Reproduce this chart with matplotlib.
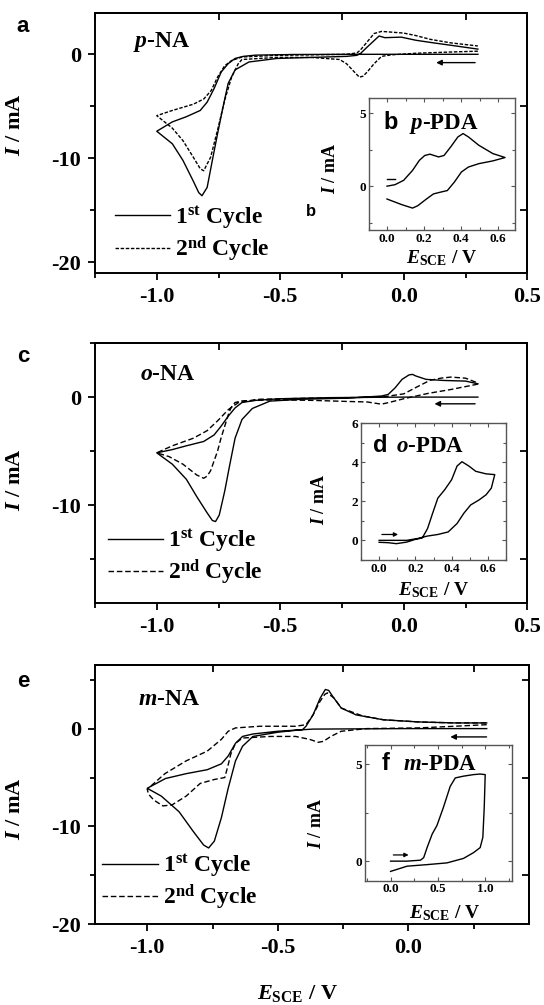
import matplotlib
matplotlib.use('Agg')
import matplotlib.pyplot as plt
from matplotlib.ticker import MultipleLocator
from matplotlib.lines import Line2D

plt.rcParams.update({
    'font.family': 'Liberation Serif',
    'font.weight': 'bold',
    'axes.labelweight': 'bold',
    'axes.unicode_minus': False,
    'mathtext.fontset': 'custom',
    'mathtext.rm': 'Liberation Serif:bold',
    'mathtext.it': 'Liberation Serif:italic:bold',
    'mathtext.bf': 'Liberation Serif:bold',
    'axes.linewidth': 1.4,
})

# ---- p-NA (panel a) ----
pna_c1_E = [0.30, 0.10, -0.20, -0.45, -0.60, -0.65, -0.683, -0.711, -0.739, -0.768, -0.796, -0.824, -0.88, -0.937, -1.0,
            -0.937, -0.894, -0.852, -0.83, -0.817, -0.796, -0.775, -0.754, -0.732, -0.711, -0.683, -0.627, -0.514,
            -0.373, -0.232, -0.19, -0.176, -0.148, -0.10, -0.077, -0.01, 0.049, 0.12, 0.19, 0.30]
pna_c1_I = [0.0, 0.0, 0.0, -0.02, -0.08, -0.2, -0.4, -0.9, -1.7, -3.3, -4.6, -5.4, -6.0, -6.5, -7.4,
            -8.6, -10.2, -12.2, -13.3, -13.6, -12.8, -10.2, -7.65, -5.1, -2.8, -1.5, -0.74, -0.4,
            -0.3, -0.2, -0.1, 0.06, 0.7, 1.76, 1.6, 1.65, 1.35, 1.1, 0.87, 0.5]
pna_c2_E = [0.30, 0.19, 0.05, -0.05, -0.09, -0.12, -0.148, -0.165, -0.18, -0.20, -0.232, -0.26, -0.373, -0.514,
            -0.655, -0.67, -0.697, -0.725, -0.754, -0.782, -0.81, -0.824, -0.852, -0.894, -0.937, -1.0,
            -0.937, -0.852, -0.81, -0.78, -0.754, -0.725, -0.697, -0.655, -0.514, -0.232, -0.19, -0.176,
            -0.148, -0.12, -0.09, -0.06, 0.0, 0.049, 0.107, 0.19, 0.30]
pna_c2_I = [0.3, 0.22, 0.1, -0.05, -0.2, -0.9, -1.7, -2.1, -2.2, -1.7, -0.9, -0.5, -0.3, -0.3,
            -0.5, -0.9, -2.2, -4.4, -7.3, -9.9, -11.2, -11.0, -9.9, -8.3, -7.1, -5.9,
            -5.4, -4.8, -4.3, -3.5, -2.2, -1.1, -0.6, -0.26, -0.1, 0.0, 0.13, 0.4,
            1.2, 2.0, 2.2, 2.15, 2.04, 1.8, 1.44, 1.1, 0.8]

# ---- o-NA (panel c) ----
ona_c1_E = [0.30, 0.0, -0.3, -0.5, -0.60, -0.655, -0.683, -0.71, -0.74, -0.768, -0.81, -0.88, -0.937, -1.0,
            -0.937, -0.88, -0.838, -0.796, -0.775, -0.762, -0.747, -0.725, -0.704, -0.683, -0.655, -0.613,
            -0.542, -0.415, -0.232, -0.09, -0.063, -0.035, -0.007, 0.021, 0.035, 0.049, 0.09, 0.16, 0.25, 0.30]
ona_c1_I = [0.0, 0.0, -0.05, -0.15, -0.3, -0.5, -1.0, -1.75, -2.7, -3.5, -4.1, -4.5, -4.85, -5.15,
            -6.2, -7.6, -9.2, -10.7, -11.4, -11.5, -10.9, -8.7, -6.2, -3.8, -2.07, -1.05,
            -0.37, -0.2, -0.1, 0.1, 0.25, 0.86, 1.64, 2.05, 2.1, 1.95, 1.64, 1.54, 1.48, 1.23]
ona_c2_E = [0.30, 0.19, 0.10, 0.05, 0.0, -0.06, -0.09, -0.12, -0.148, -0.232, -0.373, -0.514, -0.6, -0.655,
            -0.683, -0.70, -0.71, -0.725, -0.74, -0.754, -0.768, -0.782, -0.796, -0.81, -0.838, -0.894,
            -0.95, -1.0, -0.937, -0.852, -0.796, -0.754, -0.71, -0.669, -0.585, -0.373, -0.09, 0.0, 0.05,
            0.106, 0.15, 0.19, 0.25, 0.30]
ona_c2_I = [1.2, 0.7, 0.35, 0.1, -0.15, -0.5, -0.65, -0.55, -0.45, -0.4, -0.3, -0.25, -0.3, -0.35,
            -0.5, -1.0, -1.6, -2.7, -3.8, -5.0, -5.9, -6.8, -7.3, -7.5, -7.2, -6.2,
            -5.5, -5.15, -4.5, -3.8, -3.1, -2.2, -1.15, -0.5, -0.2, -0.1, 0.0, 0.3, 0.9,
            1.55, 1.75, 1.85, 1.75, 1.3]

# ---- m-NA (panel e) ----
mna_c1_E = [0.30, 0.0, -0.365, -0.5, -0.595, -0.635, -0.662, -0.69, -0.716, -0.77, -0.85, -0.93, -1.0,
            -0.946, -0.878, -0.824, -0.784, -0.765, -0.743, -0.716, -0.69, -0.662, -0.635, -0.595, -0.5,
            -0.405, -0.392, -0.365, -0.338, -0.318, -0.305, -0.29, -0.257, -0.2, -0.095, 0.04, 0.176, 0.30]
mna_c1_I = [0.0, 0.0, -0.05, -0.27, -0.55, -0.8, -1.5, -2.8, -3.6, -4.2, -4.6, -5.1, -6.1,
            -6.9, -8.5, -10.5, -11.9, -12.2, -11.5, -9.1, -6.1, -3.3, -1.8, -0.8, -0.37,
            -0.1, 0.24, 1.4, 3.1, 4.0, 3.9, 3.3, 2.1, 1.4, 0.9, 0.68, 0.58, 0.58]
mna_c2_E = [0.30, 0.176, 0.04, -0.16, -0.257, -0.297, -0.325, -0.345, -0.378, -0.432, -0.527, -0.635,
            -0.662, -0.68, -0.69, -0.703, -0.743, -0.797, -0.851, -0.905, -0.94, -0.975, -0.995, -1.0,
            -0.932, -0.851, -0.77, -0.716, -0.69, -0.662, -0.568, -0.432, -0.392, -0.365, -0.338,
            -0.32, -0.31, -0.284, -0.257, -0.176, -0.095, 0.04, 0.176, 0.30]
mna_c2_I = [0.4, 0.24, 0.07, 0.0, -0.27, -0.8, -1.3, -1.4, -1.1, -0.8, -0.8, -0.96,
            -1.5, -2.6, -3.7, -5.0, -5.2, -5.6, -6.9, -7.8, -7.9, -7.3, -6.7, -6.2,
            -4.6, -3.3, -2.3, -1.1, -0.27, 0.07, 0.24, 0.24, 0.4, 1.4, 2.8,
            3.5, 3.65, 3.1, 2.1, 1.3, 0.9, 0.68, 0.58, 0.58]

# ---- insets ----
ppda_E = [0.0, 0.043, 0.09, 0.138, 0.175, 0.204, 0.232, 0.279, 0.308, 0.345, 0.383, 0.411, 0.44, 0.496, 0.572, 0.638,
          0.572, 0.496, 0.44, 0.402, 0.364, 0.326, 0.289, 0.251, 0.213, 0.166, 0.138, 0.081, 0.0]
ppda_I = [0.0, 0.1, 0.4, 1.08, 1.77, 2.1, 2.19, 2.0, 2.1, 2.7, 3.37, 3.6, 3.37, 2.8, 2.23, 1.96,
          1.73, 1.54, 1.31, 0.97, 0.28, -0.3, -0.41, -0.53, -0.88, -1.34, -1.5, -1.27, -0.88]
opda_E = [0.0, 0.05, 0.095, 0.152, 0.2, 0.238, 0.267, 0.295, 0.324, 0.362, 0.4, 0.43, 0.457, 0.495, 0.533, 0.59, 0.638,
          0.619, 0.59, 0.552, 0.505, 0.467, 0.43, 0.381, 0.324, 0.267, 0.21, 0.152, 0.0]
opda_I = [-0.1, -0.12, -0.17, -0.09, 0.05, 0.12, 0.6, 1.38, 2.16, 2.59, 3.1, 3.8, 4.02, 3.8, 3.53, 3.4, 3.36,
          2.67, 2.33, 2.07, 1.81, 1.38, 0.86, 0.43, 0.3, 0.22, 0.09, 0.0, 0.0]
mpda_E = [0.0, 0.175, 0.386, 0.596, 0.77, 0.877, 0.947, 0.975, 0.99, 1.0,
          0.947, 0.877, 0.77, 0.684, 0.63, 0.56, 0.49, 0.44, 0.386, 0.35, 0.316, 0.175, 0.0]
mpda_I = [-0.53, -0.26, -0.18, -0.09, 0.14, 0.44, 0.7, 1.23, 2.8, 4.47,
          4.5, 4.47, 4.39, 4.3, 3.86, 2.8, 1.84, 1.4, 0.7, 0.18, 0.05, 0.0, 0.0]

cycle_labels = [r'1$^{\rm st}$ Cycle', r'2$^{\rm nd}$ Cycle']

W, H = 544, 1005
fig = plt.figure(figsize=(W / 100, H / 100), dpi=100)


def px_rect(l, t, r, b):
    return [l / W, 1 - b / H, (r - l) / W, (b - t) / H]


def main_panel(rect, xlim, ylim, c1, c2, dash, name, name_xy, leg_xy, arrow, ylab_y, letter, letter_y):
    ax = fig.add_axes(rect)
    ax.plot(c1[0], c1[1], color='black', lw=1.0)
    ax.plot(c2[0], c2[1], color='black', lw=1.0, ls=dash)
    ax.set_xlim(*xlim)
    ax.set_ylim(*ylim)
    ax.xaxis.set_major_locator(MultipleLocator(0.5))
    ax.xaxis.set_minor_locator(MultipleLocator(0.25))
    ax.yaxis.set_major_locator(MultipleLocator(10))
    ax.yaxis.set_minor_locator(MultipleLocator(5))
    ax.xaxis.set_major_formatter(lambda v, p: f'{v:.1f}')
    ax.tick_params(which='major', direction='out', length=5, width=1.3, labelsize=16, pad=5)
    ax.tick_params(which='minor', direction='out', length=3.5, width=1.3)
    # mirrored ticks pointing inward on top and right
    top = ax.secondary_xaxis('top')
    top.set_ticks(list(ax.get_xticks(minor=True)))
    top.tick_params(direction='in', length=5, width=1.3, labeltop=False)
    right = ax.secondary_yaxis('right')
    right.set_ticks(list(ax.get_yticks(minor=True)))
    right.tick_params(direction='in', length=5, width=1.3, labelright=False)
    ax.set_ylabel(r'$I$ / mA', fontsize=16)
    ax.yaxis.set_label_coords(-0.162, ylab_y)
    ax.text(name_xy[0], name_xy[1], name, transform=ax.transAxes, fontsize=17, va='baseline')
    handles = [Line2D([], [], color='black', lw=1.0), Line2D([], [], color='black', lw=1.0, ls=dash)]
    ax.legend(handles, cycle_labels, loc='lower left', bbox_to_anchor=leg_xy, frameon=False,
              fontsize=17, handlelength=2.35, handletextpad=0.2, borderpad=0, borderaxespad=0,
              labelspacing=0.15)
    ax.annotate('', xy=(arrow[1], arrow[2]), xytext=(arrow[0], arrow[2]),
                arrowprops=dict(arrowstyle='-|>', color='black', lw=1.0, mutation_scale=8))
    fig.text(23 / W, 1 - letter_y / H, letter, family='Liberation Sans', weight='bold', fontsize=16,
             ha='center', va='baseline')
    return ax


def inset(rect, data, xlim, ylim, xmaj, xmin, ymaj, ymin, letter, name, txt, arr, ylab_x, ylab_y, xlab_xy, xfmt):
    ax = fig.add_axes(rect)
    ax.plot(data[0], data[1], color='black', lw=1.0)
    ax.set_xlim(*xlim)
    ax.set_ylim(*ylim)
    ax.xaxis.set_major_locator(MultipleLocator(xmaj))
    ax.xaxis.set_minor_locator(MultipleLocator(xmin))
    ax.yaxis.set_major_locator(MultipleLocator(ymaj))
    ax.yaxis.set_minor_locator(MultipleLocator(ymin))
    ax.xaxis.set_major_formatter(lambda v, p: xfmt.format(v))
    ax.tick_params(which='both', direction='in', top=True, right=True, width=0.8, labelsize=9.5, pad=2,
                   color='#555555')
    ax.tick_params(which='major', length=3)
    ax.tick_params(which='minor', length=2)
    for s in ax.spines.values():
        s.set_edgecolor('#555555')
        s.set_linewidth(1.0)
    if arr[3]:
        ax.annotate('', xy=(arr[1], arr[2]), xytext=(arr[0], arr[2]),
                    arrowprops=dict(arrowstyle='-|>', color='black', lw=0.9, mutation_scale=6))
    else:
        ax.plot([arr[0], arr[1]], [arr[2], arr[2]], color='black', lw=1.0)
    ax.text(txt[0], txt[2], letter, transform=ax.transAxes, family='Liberation Sans', weight='bold',
            fontsize=17, va='baseline')
    ax.text(txt[1], txt[2], name, transform=ax.transAxes, fontsize=16.5, va='baseline')
    ax.set_ylabel(r'$I$ / mA', fontsize=13)
    ax.yaxis.set_label_coords(ylab_x, ylab_y)
    ax.set_xlabel(r'$E_{\rm SCE}$ / V', fontsize=14, labelpad=0)
    ax.xaxis.set_label_coords(*xlab_xy)
    ax.xaxis.label.set_va('top')
    return ax


dots = (0, (2.5, 1.2))
dashes = (0, (4, 2))

ax_a = main_panel(px_rect(95, 12.7, 527.3, 272.7), (-1.25, 0.5), (-21, 4),
                  (pna_c1_E, pna_c1_I), (pna_c2_E, pna_c2_I), dots, r'$p$-NA', (0.088, 0.868),
                  (0.046, 0.035), (0.30, 0.12, -0.8), 0.568, 'a', 32)
ax_a.text(0.487, 0.2165, 'b', transform=ax_a.transAxes, family='Liberation Sans', weight='bold',
          fontsize=12, va='baseline')

main_panel(px_rect(95, 343, 527.3, 602.7), (-1.25, 0.5), (-19, 5),
           (ona_c1_E, ona_c1_I), (ona_c2_E, ona_c2_I), dashes, r'$o$-NA', (0.105, 0.858),
           (0.029, 0.06), (0.30, 0.113, -0.62), 0.472, 'c', 362)

ax_e = main_panel(px_rect(95, 665, 528.5, 924.3), (-1.2, 0.46), (-20, 6.5),
                  (mna_c1_E, mna_c1_I), (mna_c2_E, mna_c2_I), dashes, r'$m$-NA', (0.10, 0.846),
                  (0.017, 0.047), (0.31, 0.15, -0.85), 0.445, 'e', 687)
ax_e.set_xlabel(r'$E_{\rm SCE}$ / V', fontsize=16)
ax_e.xaxis.set_label_coords(0.466, -0.228)
ax_e.xaxis.label.set_va('top')

inset(px_rect(368.5, 98.5, 514.7, 230), (ppda_E, ppda_I), (-0.1, 0.69), (-3, 6), 0.2, 0.1, 5, 2.5,
      'b', r'$p$-PDA', (0.104, 0.28, 0.77), (0.0, 0.045, 0.46, False), -0.205, 0.47, (0.5, -0.137),
      '{:.1f}')
inset(px_rect(361, 423, 506, 559.9), (opda_E, opda_I), (-0.1, 0.7), (-1, 6), 0.2, 0.1, 2, 1,
      'd', r'$o$-PDA', (0.083, 0.24, 0.785), (0.0, 0.12, 0.3, True), -0.228, 0.445, (0.503, -0.147),
      '{:.1f}')
inset(px_rect(365, 745, 511.7, 880.5), (mpda_E, mpda_I), (-0.27, 1.28), (-1, 6), 0.5, 0.25, 5, 2.5,
      'f', r'$m$-PDA', (0.116, 0.258, 0.815), (0.0, 0.22, 0.32, True), -0.275, 0.424, (0.54, -0.166),
      '{:.1f}')

fig.savefig('out.png', dpi=100)
